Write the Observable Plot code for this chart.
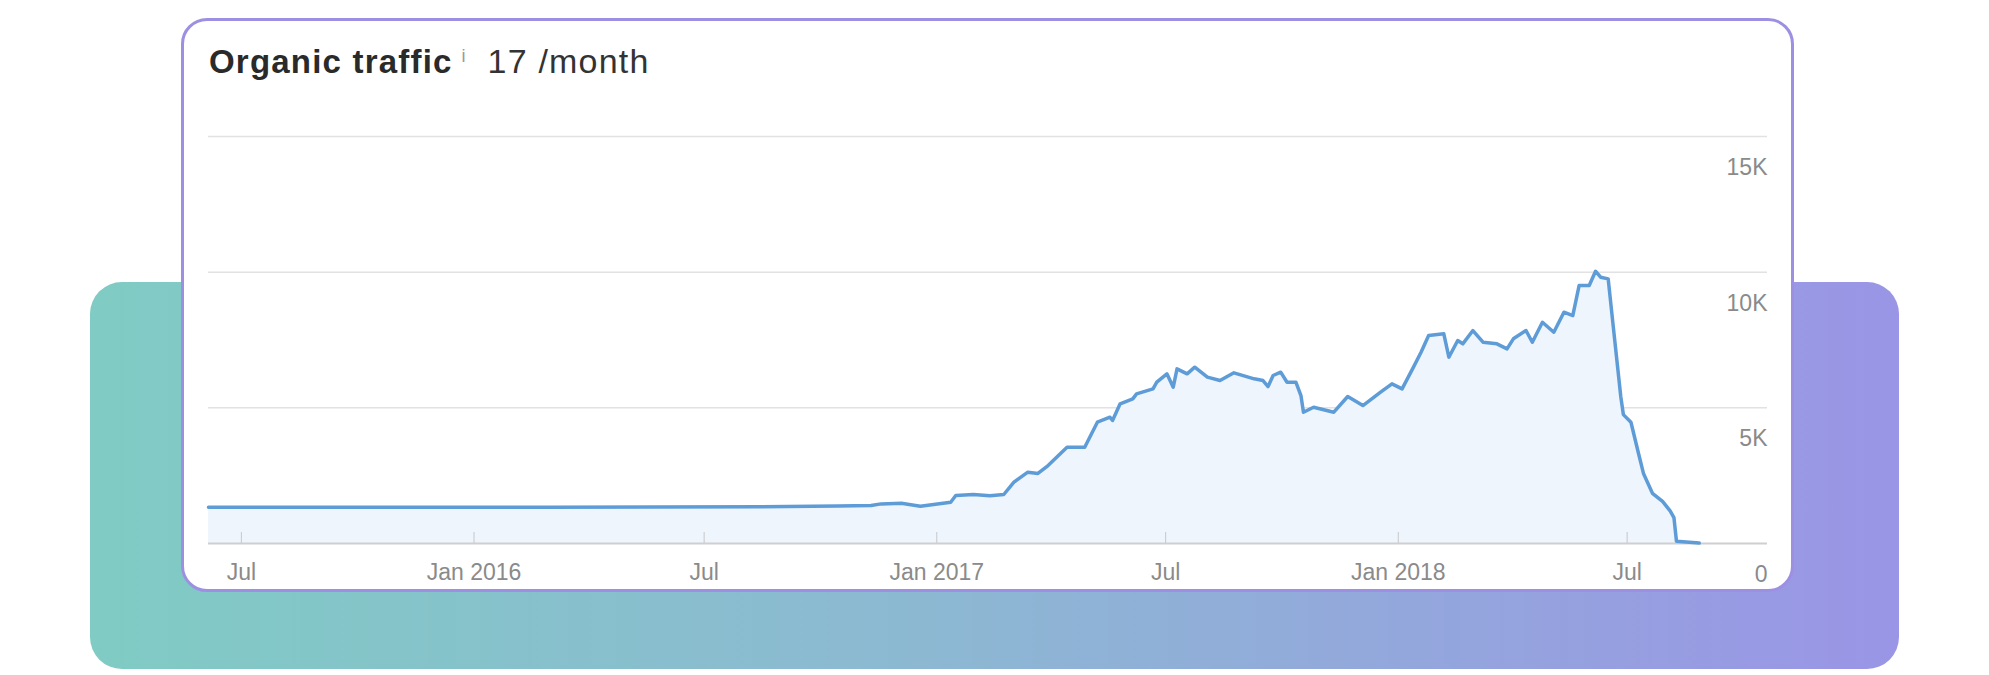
<!DOCTYPE html>
<html>
<head>
<meta charset="utf-8">
<script src="https://cdn.jsdelivr.net/npm/d3@7"></script>
<script src="https://cdn.jsdelivr.net/npm/@observablehq/plot@0.6"></script>
<style>
  html, body { margin: 0; padding: 0; background: #ffffff; }
  body { width: 1989px; height: 675px; position: relative; overflow: hidden; font-family: "Liberation Sans", Arial, Helvetica, sans-serif; }
  #bg { position: absolute; left: 90px; top: 282px; width: 1809px; height: 387px; border-radius: 32px;
        background: linear-gradient(90deg, #80cbc4 0%, #8cb9d2 45%, #9a95e6 100%); }
  #card { position: absolute; left: 181px; top: 18px; width: 1613px; height: 574px; box-sizing: border-box;
          border: 3px solid #9d90e2; border-radius: 26px; background: #ffffff; }
  #title { position: absolute; left: 209px; top: 45px; line-height: 32px; white-space: nowrap; color: #2a2a2a; }
  #title .main { font-size: 33px; font-weight: bold; letter-spacing: 1.2px; }
  #title .info { font-size: 18px; color: #9a9a9a; position: relative; top: -11px; margin-left: 9px; }
  #title .value { font-size: 34px; color: #333333; margin-left: 22px; letter-spacing: 1.2px; }
  #chart { position: absolute; left: 184px; top: 100px; }
</style>
</head>
<body>
<div id="bg"></div>
<div id="card"></div>
<div id="title"><span class="main">Organic traffic</span><span class="info">i</span><span class="value">17 /month</span></div>
<div id="chart"></div>
<script>
// ---- data ----
const dates = [
  "2015-06-05","2016-03-01","2016-08-15","2016-10-15","2016-11-10","2016-11-18","2016-12-04","2016-12-19",
  "2017-01-12","2017-01-16","2017-01-30","2017-02-12","2017-02-23","2017-03-03","2017-03-14","2017-03-22",
  "2017-03-30","2017-04-14","2017-04-28","2017-05-08","2017-05-18","2017-05-20","2017-05-26","2017-06-05",
  "2017-06-08","2017-06-21","2017-06-24","2017-07-02","2017-07-07","2017-07-10","2017-07-18","2017-07-24",
  "2017-08-03","2017-08-13","2017-08-24","2017-09-09","2017-09-16","2017-09-20","2017-09-24","2017-09-30",
  "2017-10-05","2017-10-12","2017-10-16","2017-10-18","2017-10-26","2017-11-11","2017-11-22","2017-12-04",
  "2017-12-18","2017-12-27","2018-01-04","2018-01-13","2018-01-19","2018-01-25","2018-02-06","2018-02-10",
  "2018-02-17","2018-02-21","2018-03-01","2018-03-09","2018-03-20","2018-03-28","2018-04-02","2018-04-12",
  "2018-04-17","2018-04-25","2018-05-04","2018-05-12","2018-05-19","2018-05-24","2018-06-01","2018-06-06",
  "2018-06-10","2018-06-16","2018-06-20","2018-06-26","2018-06-28","2018-07-04","2018-07-10","2018-07-14",
  "2018-07-21","2018-07-29","2018-08-04","2018-08-07","2018-08-09","2018-08-27"
];
const traffic = [
  1340,1340,1350,1380,1400,1460,1485,1375,
  1522,1769,1806,1760,1806,2260,2628,2580,
  2874,3549,3549,4470,4654,4533,5148,5332,
  5516,5700,5945,6253,5760,6437,6253,6498,
  6130,6007,6290,6069,6007,5785,6191,6314,
  5945,5945,5454,4839,5023,4839,5417,5085,
  5576,5885,5700,6498,7050,7665,7727,6866,
  7481,7359,7849,7418,7359,7175,7543,7849,
  7418,8155,7787,8524,8402,9507,9507,10034,
  9813,9754,8000,5400,4750,4470,3316,2568,
  1850,1550,1200,958,85,17
];
const xTickDates = ["2015-07-01","2016-01-01","2016-07-01","2017-01-01","2017-07-01","2018-01-01","2018-07-01"];
const xTickLabels = ["Jul","Jan 2016","Jul","Jan 2017","Jul","Jan 2018","Jul"];
const yTicks = [0, 5000, 10000, 15000];
const yTickLabels = ["0","5K","10K","15K"];
const xDomain = ["2015-06-05","2018-10-20"];

const data = dates.map((d, i) => ({date: new Date(d), value: traffic[i]}));
const xTicks = xTickDates.map(d => new Date(d));
const xLabelOf = new Map(xTickDates.map((d, i) => [+new Date(d), xTickLabels[i]]));
const yLabelOf = new Map(yTicks.map((v, i) => [v, yTickLabels[i]]));

const chart = Plot.plot({
  width: 1606,
  height: 488,
  marginLeft: 24,
  marginRight: 23,
  marginTop: 36,
  marginBottom: 45,
  style: {background: "transparent", fontSize: "23px", fontFamily: "'Liberation Sans', Arial, Helvetica, sans-serif", color: "#8a8a8a", overflow: "visible"},
  x: {type: "utc", domain: xDomain.map(d => new Date(d)), label: null},
  y: {domain: [0, 15000], label: null},
  marks: [
    Plot.gridY({ticks: yTicks.slice(1), stroke: "#e2e2e2", strokeOpacity: 1, strokeWidth: 1.5}),
    Plot.areaY(data, {x: "date", y: "value", fill: "#eef5fd", curve: "linear"}),
    Plot.ruleY([0], {stroke: "#cfcfcf", strokeWidth: 2}),
    Plot.axisX({ticks: xTicks, label: null, tickSize: -11, tickPadding: 31, stroke: "#c8c8c8", tickFormat: d => xLabelOf.get(+d), fill: "#8a8a8a"}),
    Plot.lineY(data, {x: "date", y: "value", stroke: "#5e9cd8", strokeWidth: 3.5, strokeLinejoin: "round"}),
    Plot.axisY({anchor: "right", ticks: yTicks, label: null, tickSize: 0, tickPadding: 0, textAnchor: "end", dy: 31, tickFormat: v => yLabelOf.get(v), fill: "#8a8a8a"})
  ]
});
document.getElementById("chart").appendChild(chart);
</script>
</body>
</html>
